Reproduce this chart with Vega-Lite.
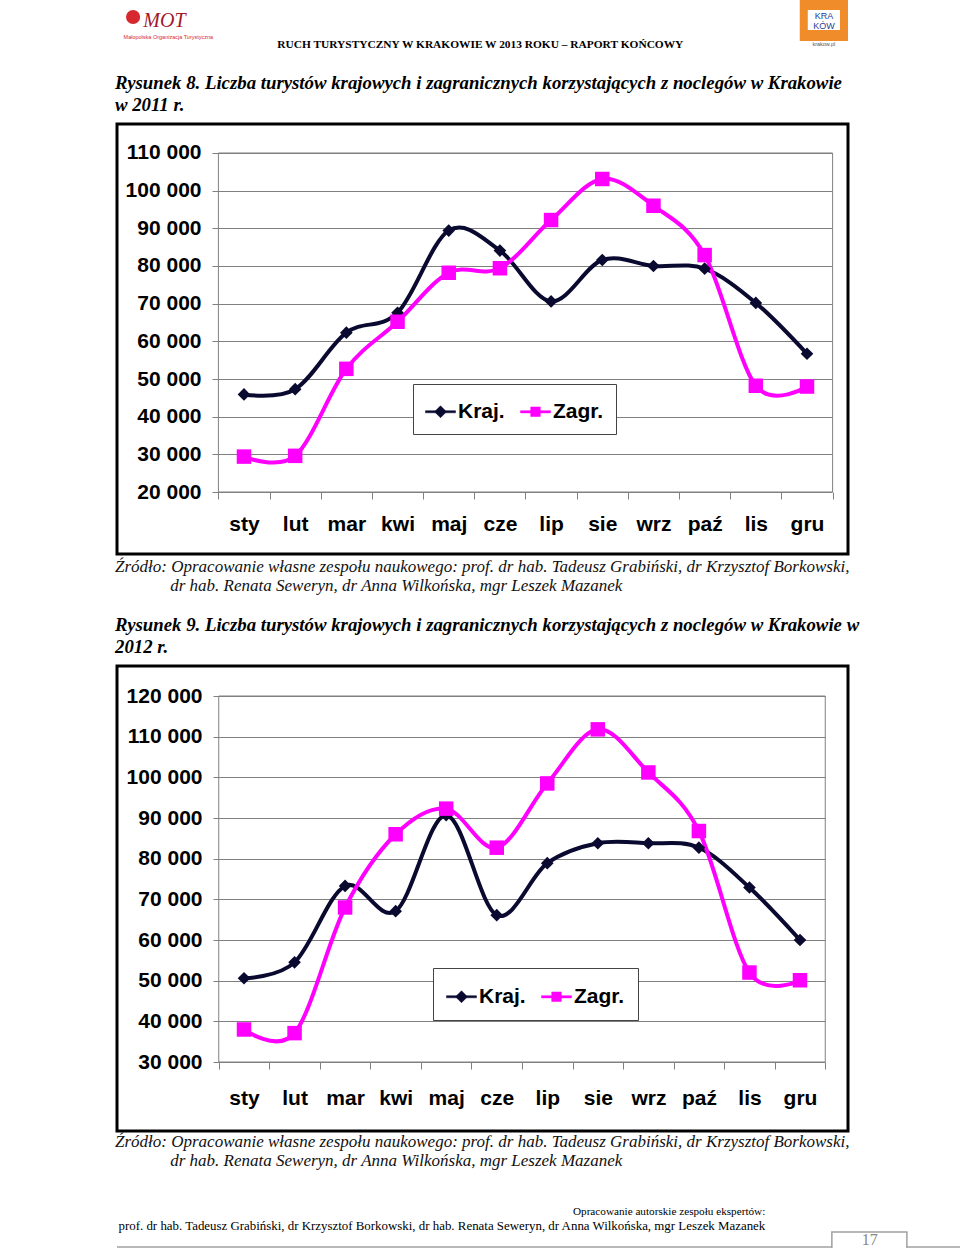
{
  "$schema": "https://vega.github.io/schema/vega-lite/v6.json",
  "padding": {"left": 113, "top": 0, "right": 0, "bottom": 0},
  "background": "white",
  "spacing": 0,
  "config": {"view": {"stroke": null}, "font": "Liberation Sans"},
  "resolve": {"scale": {"color": "independent", "shape": "independent"}, "legend": {"color": "independent", "shape": "independent"}},
  "datasets": {
    "d2011": [
      {"m": "sty", "i": 1, "s": "Kraj.", "v": 45900}, {"m": "lut", "i": 2, "s": "Kraj.", "v": 47300},
      {"m": "mar", "i": 3, "s": "Kraj.", "v": 62300}, {"m": "kwi", "i": 4, "s": "Kraj.", "v": 67600},
      {"m": "maj", "i": 5, "s": "Kraj.", "v": 89400}, {"m": "cze", "i": 6, "s": "Kraj.", "v": 84100},
      {"m": "lip", "i": 7, "s": "Kraj.", "v": 70600}, {"m": "sie", "i": 8, "s": "Kraj.", "v": 81600},
      {"m": "wrz", "i": 9, "s": "Kraj.", "v": 80000}, {"m": "paź", "i": 10, "s": "Kraj.", "v": 79300},
      {"m": "lis", "i": 11, "s": "Kraj.", "v": 70200}, {"m": "gru", "i": 12, "s": "Kraj.", "v": 56700},
      {"m": "sty", "i": 1, "s": "Zagr.", "v": 29400}, {"m": "lut", "i": 2, "s": "Zagr.", "v": 29600},
      {"m": "mar", "i": 3, "s": "Zagr.", "v": 52700}, {"m": "kwi", "i": 4, "s": "Zagr.", "v": 65200},
      {"m": "maj", "i": 5, "s": "Zagr.", "v": 78200}, {"m": "cze", "i": 6, "s": "Zagr.", "v": 79400},
      {"m": "lip", "i": 7, "s": "Zagr.", "v": 92200}, {"m": "sie", "i": 8, "s": "Zagr.", "v": 103100},
      {"m": "wrz", "i": 9, "s": "Zagr.", "v": 96000}, {"m": "paź", "i": 10, "s": "Zagr.", "v": 82900},
      {"m": "lis", "i": 11, "s": "Zagr.", "v": 48200}, {"m": "gru", "i": 12, "s": "Zagr.", "v": 48000}
    ],
    "d2012": [
      {"m": "sty", "i": 1, "s": "Kraj.", "v": 50600}, {"m": "lut", "i": 2, "s": "Kraj.", "v": 54500},
      {"m": "mar", "i": 3, "s": "Kraj.", "v": 73300}, {"m": "kwi", "i": 4, "s": "Kraj.", "v": 67100},
      {"m": "maj", "i": 5, "s": "Kraj.", "v": 90700}, {"m": "cze", "i": 6, "s": "Kraj.", "v": 66100},
      {"m": "lip", "i": 7, "s": "Kraj.", "v": 78900}, {"m": "sie", "i": 8, "s": "Kraj.", "v": 83800},
      {"m": "wrz", "i": 9, "s": "Kraj.", "v": 83800}, {"m": "paź", "i": 10, "s": "Kraj.", "v": 82700},
      {"m": "lis", "i": 11, "s": "Kraj.", "v": 72900}, {"m": "gru", "i": 12, "s": "Kraj.", "v": 60000},
      {"m": "sty", "i": 1, "s": "Zagr.", "v": 38000}, {"m": "lut", "i": 2, "s": "Zagr.", "v": 37100},
      {"m": "mar", "i": 3, "s": "Zagr.", "v": 68000}, {"m": "kwi", "i": 4, "s": "Zagr.", "v": 86000},
      {"m": "maj", "i": 5, "s": "Zagr.", "v": 92300}, {"m": "cze", "i": 6, "s": "Zagr.", "v": 82700},
      {"m": "lip", "i": 7, "s": "Zagr.", "v": 98500}, {"m": "sie", "i": 8, "s": "Zagr.", "v": 111800},
      {"m": "wrz", "i": 9, "s": "Zagr.", "v": 101200}, {"m": "paź", "i": 10, "s": "Zagr.", "v": 86800},
      {"m": "lis", "i": 11, "s": "Zagr.", "v": 52000}, {"m": "gru", "i": 12, "s": "Zagr.", "v": 50100}
    ]
  },
  "vconcat": [
    {
      "width": 731, "height": 72,
      "view": {"stroke": null},
      "data": {"values": [{}]},
      "layer": [
        {"mark": {"type": "text", "font": "Liberation Serif", "fontSize": 11.4, "fontWeight": "bold", "align": "center", "baseline": "alphabetic", "color": "black"},
         "encoding": {"x": {"datum": 0.497, "type": "quantitative", "scale": {"domain": [0, 1], "nice": false, "zero": false}, "axis": null},
                      "y": {"datum": 0.333, "type": "quantitative", "scale": {"domain": [0, 1], "nice": false, "zero": false}, "axis": null},
                      "text": {"value": "RUCH TURYSTYCZNY W KRAKOWIE W 2013 ROKU – RAPORT KOŃCOWY"}}},
        {"mark": {"type": "circle", "color": "#d7282f", "size": 200, "opacity": 1},
         "encoding": {"x": {"datum": 0.022, "type": "quantitative", "scale": {"domain": [0, 1], "nice": false, "zero": false}, "axis": null},
                      "y": {"datum": 0.764, "type": "quantitative", "scale": {"domain": [0, 1], "nice": false, "zero": false}, "axis": null}}},
        {"mark": {"type": "text", "font": "Liberation Serif", "fontSize": 20, "fontStyle": "italic", "align": "left", "baseline": "alphabetic", "color": "#a3182a"},
         "encoding": {"x": {"datum": 0.036, "type": "quantitative", "scale": {"domain": [0, 1], "nice": false, "zero": false}, "axis": null},
                      "y": {"datum": 0.625, "type": "quantitative", "scale": {"domain": [0, 1], "nice": false, "zero": false}, "axis": null},
                      "text": {"value": "MOT"}}},
        {"mark": {"type": "text", "fontSize": 5.5, "align": "left", "baseline": "alphabetic", "color": "#d7282f"},
         "encoding": {"x": {"datum": 0.009, "type": "quantitative", "scale": {"domain": [0, 1], "nice": false, "zero": false}, "axis": null},
                      "y": {"datum": 0.46, "type": "quantitative", "scale": {"domain": [0, 1], "nice": false, "zero": false}, "axis": null},
                      "text": {"value": "Małopolska Organizacja Turystyczna"}}},
        {"mark": {"type": "rect", "color": "#f08c2a", "opacity": 1},
         "encoding": {"x": {"datum": 0.934, "type": "quantitative", "scale": {"domain": [0, 1], "nice": false, "zero": false}, "axis": null},
                      "x2": {"datum": 1.0},
                      "y": {"datum": 0.43, "type": "quantitative", "scale": {"domain": [0, 1], "nice": false, "zero": false}, "axis": null},
                      "y2": {"datum": 1.0}}},
        {"mark": {"type": "rect", "color": "white", "opacity": 1},
         "encoding": {"x": {"datum": 0.945, "type": "quantitative", "scale": {"domain": [0, 1], "nice": false, "zero": false}, "axis": null},
                      "x2": {"datum": 0.989},
                      "y": {"datum": 0.583, "type": "quantitative", "scale": {"domain": [0, 1], "nice": false, "zero": false}, "axis": null},
                      "y2": {"datum": 0.861}}},
        {"mark": {"type": "text", "fontSize": 9, "align": "center", "baseline": "alphabetic", "color": "#2b3d8f"},
         "encoding": {"x": {"datum": 0.967, "type": "quantitative", "scale": {"domain": [0, 1], "nice": false, "zero": false}, "axis": null},
                      "y": {"datum": 0.736, "type": "quantitative", "scale": {"domain": [0, 1], "nice": false, "zero": false}, "axis": null},
                      "text": {"value": "KRA"}}},
        {"mark": {"type": "text", "fontSize": 9, "align": "center", "baseline": "alphabetic", "color": "#2b3d8f"},
         "encoding": {"x": {"datum": 0.967, "type": "quantitative", "scale": {"domain": [0, 1], "nice": false, "zero": false}, "axis": null},
                      "y": {"datum": 0.597, "type": "quantitative", "scale": {"domain": [0, 1], "nice": false, "zero": false}, "axis": null},
                      "text": {"value": "KÓW"}}},
        {"mark": {"type": "text", "fontSize": 5.5, "align": "center", "baseline": "alphabetic", "color": "#555555"},
         "encoding": {"x": {"datum": 0.967, "type": "quantitative", "scale": {"domain": [0, 1], "nice": false, "zero": false}, "axis": null},
                      "y": {"datum": 0.361, "type": "quantitative", "scale": {"domain": [0, 1], "nice": false, "zero": false}, "axis": null},
                      "text": {"value": "krakow.pl"}}}
      ]
    },
    {
      "width": 731, "height": 430,
      "view": {"stroke": "#000000", "strokeWidth": 3},
      "title": {"text": ["Rysunek 8. Liczba turystów krajowych i zagranicznych korzystających z noclegów w Krakowie", "w 2011 r."],
                "anchor": "start", "frame": "group", "font": "Liberation Serif", "fontSize": 18.8, "fontWeight": "bold", "fontStyle": "italic",
                "lineHeight": 22, "color": "black", "offset": 9, "dx": -2},
      "data": {"name": "d2011"},
      "layer": [
        {"data": {"values": [{}]},
         "mark": {"type": "rect", "filled": false, "stroke": "#808080", "strokeWidth": 1},
         "encoding": {
           "x": {"datum": 0.5, "type": "quantitative", "scale": {"domain": [-1.481, 12.801], "nice": false, "zero": false},
                 "axis": {"values": [0.5, 1.5, 2.5, 3.5, 4.5, 5.5, 6.5, 7.5, 8.5, 9.5, 10.5, 11.5, 12.5],
                          "labelExpr": "['sty','lut','mar','kwi','maj','cze','lip','sie','wrz','paź','lis','gru'][datum.value - 0.5] || ''",
                          "labelOffset": 25.6, "ticks": true, "tickSize": 7, "tickColor": "#808080", "tickWidth": 1,
                          "domain": false, "grid": false, "offset": -62, "labelPadding": 14,
                          "labelFont": "Liberation Sans", "labelFontSize": 21, "labelFontWeight": "bold", "labelColor": "black",
                          "labelFlush": false, "labelOverlap": false, "labelAngle": 0, "title": null}},
           "x2": {"datum": 12.5},
           "y": {"datum": 20000, "type": "quantitative", "scale": {"domain": [3541, 117698], "nice": false, "zero": false},
                 "axis": {"values": [20000, 30000, 40000, 50000, 60000, 70000, 80000, 90000, 100000, 110000],
                          "labelExpr": "replace(format(datum.value, ','), ',', ' ')",
                          "offset": -95, "tickSize": -620, "tickColor": "#808080", "tickWidth": 1, "labelPadding": 631,
                          "domain": false, "grid": false, "title": null,
                          "labelFont": "Liberation Sans", "labelFontSize": 21, "labelFontWeight": "bold", "labelColor": "black",
                          "labelBaseline": "middle", "labelFlush": false, "labelOverlap": false}},
           "y2": {"datum": 110000}
         }},
        {"mark": {"type": "line", "interpolate": "cardinal", "strokeWidth": 4},
         "encoding": {
           "x": {"field": "i", "type": "quantitative", "scale": {"domain": [-1.481, 12.801], "nice": false, "zero": false}},
           "y": {"field": "v", "type": "quantitative", "scale": {"domain": [3541, 117698], "nice": false, "zero": false}},
           "color": {"field": "s", "type": "nominal", "scale": {"domain": ["Kraj.", "Zagr."], "range": ["#0a0a30", "#ff00ff"]}}
         }},
        {"transform": [{"filter": "datum.s === 'Kraj.'"}],
         "mark": {"type": "point", "filled": true, "opacity": 1, "shape": "diamond", "size": 160},
         "encoding": {
           "x": {"field": "i", "type": "quantitative", "scale": {"domain": [-1.481, 12.801], "nice": false, "zero": false}},
           "y": {"field": "v", "type": "quantitative", "scale": {"domain": [3541, 117698], "nice": false, "zero": false}},
           "color": {"field": "s", "type": "nominal", "scale": {"domain": ["Kraj.", "Zagr."], "range": ["#0a0a30", "#ff00ff"]}}
         }},
        {"transform": [{"filter": "datum.s === 'Zagr.'"}],
         "mark": {"type": "point", "filled": true, "opacity": 1, "shape": "square", "size": 210},
         "encoding": {
           "x": {"field": "i", "type": "quantitative", "scale": {"domain": [-1.481, 12.801], "nice": false, "zero": false}},
           "y": {"field": "v", "type": "quantitative", "scale": {"domain": [3541, 117698], "nice": false, "zero": false}},
           "color": {"field": "s", "type": "nominal", "scale": {"domain": ["Kraj.", "Zagr."], "range": ["#0a0a30", "#ff00ff"]}}
         }},
        {"mark": {"type": "point", "filled": true, "opacity": 0, "size": 1},
         "encoding": {
           "x": {"field": "i", "type": "quantitative", "scale": {"domain": [-1.481, 12.801], "nice": false, "zero": false}},
           "y": {"field": "v", "type": "quantitative", "scale": {"domain": [3541, 117698], "nice": false, "zero": false}},
           "color": {"field": "s", "type": "nominal", "scale": {"domain": ["Kraj.", "Zagr."], "range": ["#0a0a30", "#ff00ff"]},
                     "legend": {"orient": "none", "legendX": 296, "legendY": 260, "direction": "horizontal", "title": null,
                                "fillColor": "white", "strokeColor": "#444444", "padding": 12, "symbolSize": 900, "symbolOpacity": 1,
                                "symbolStrokeWidth": 0.5,
                                "labelFont": "Liberation Sans", "labelFontSize": 21, "labelFontWeight": "bold", "labelColor": "black",
                                "labelOffset": 2, "columnPadding": 14}},
           "shape": {"field": "s", "type": "nominal",
                     "scale": {"domain": ["Kraj.", "Zagr."], "range": ["M-1,-0.07H1V0.07H-1Z M0,-0.4L0.4,0L0,0.4L-0.4,0Z", "M-1,-0.075H1V0.075H-1Z M-0.32,-0.32H0.32V0.32H-0.32Z"]},
                     "legend": {"orient": "none", "legendX": 296, "legendY": 260, "direction": "horizontal", "title": null,
                                "fillColor": "white", "strokeColor": "#444444", "padding": 12, "symbolSize": 900, "symbolOpacity": 1,
                                "symbolStrokeWidth": 0.5,
                                "labelFont": "Liberation Sans", "labelFontSize": 21, "labelFontWeight": "bold", "labelColor": "black",
                                "labelOffset": 2, "columnPadding": 14}}
         }}
      ]
    },
    {
      "width": 731, "height": 465,
      "view": {"stroke": "#000000", "strokeWidth": 3},
      "title": {"text": ["Źródło: Opracowanie własne zespołu naukowego: prof. dr hab. Tadeusz Grabiński, dr Krzysztof Borkowski,", "\u200b\u00a0\u00a0\u00a0\u00a0\u00a0\u00a0\u00a0\u00a0\u00a0\u00a0\u00a0\u00a0\u00a0dr hab. Renata Seweryn, dr Anna Wilkońska, mgr Leszek Mazanek"],
                "anchor": "start", "frame": "group", "font": "Liberation Serif", "fontSize": 17, "fontWeight": "normal", "fontStyle": "italic",
                "lineHeight": 19, "color": "#111111",
                "subtitle": ["Rysunek 9. Liczba turystów krajowych i zagranicznych korzystających z noclegów w Krakowie w", "2012 r."],
                "subtitleFont": "Liberation Serif", "subtitleFontSize": 18.8, "subtitleFontWeight": "bold", "subtitleFontStyle": "italic",
                "subtitleColor": "black", "subtitleLineHeight": 22, "subtitlePadding": 21, "offset": 8, "dx": -2},
      "data": {"name": "d2012"},
      "layer": [
        {"data": {"values": [{}]},
         "mark": {"type": "rect", "filled": false, "stroke": "#808080", "strokeWidth": 1},
         "encoding": {
           "x": {"datum": 0.5, "type": "quantitative", "scale": {"domain": [-1.513, 12.95], "nice": false, "zero": false},
                 "axis": {"values": [0.5, 1.5, 2.5, 3.5, 4.5, 5.5, 6.5, 7.5, 8.5, 9.5, 10.5, 11.5, 12.5],
                          "labelExpr": "['sty','lut','mar','kwi','maj','cze','lip','sie','wrz','paź','lis','gru'][datum.value - 0.5] || ''",
                          "labelOffset": 25.3, "ticks": true, "tickSize": 7, "tickColor": "#808080", "tickWidth": 1,
                          "domain": false, "grid": false, "offset": -69, "labelPadding": 18,
                          "labelFont": "Liberation Sans", "labelFontSize": 21, "labelFontWeight": "bold", "labelColor": "black",
                          "labelFlush": false, "labelOverlap": false, "labelAngle": 0, "title": null}},
           "x2": {"datum": 12.5},
           "y": {"datum": 30000, "type": "quantitative", "scale": {"domain": [13034, 127377], "nice": false, "zero": false},
                 "axis": {"values": [30000, 40000, 50000, 60000, 70000, 80000, 90000, 100000, 110000, 120000],
                          "labelExpr": "replace(format(datum.value, ','), ',', ' ')",
                          "offset": -96, "tickSize": -612, "tickColor": "#808080", "tickWidth": 1, "labelPadding": 623,
                          "domain": false, "grid": false, "title": null,
                          "labelFont": "Liberation Sans", "labelFontSize": 21, "labelFontWeight": "bold", "labelColor": "black",
                          "labelBaseline": "middle", "labelFlush": false, "labelOverlap": false}},
           "y2": {"datum": 120000}
         }},
        {"mark": {"type": "line", "interpolate": "cardinal", "strokeWidth": 4},
         "encoding": {
           "x": {"field": "i", "type": "quantitative", "scale": {"domain": [-1.513, 12.95], "nice": false, "zero": false}},
           "y": {"field": "v", "type": "quantitative", "scale": {"domain": [13034, 127377], "nice": false, "zero": false}},
           "color": {"field": "s", "type": "nominal", "scale": {"domain": ["Kraj.", "Zagr."], "range": ["#0a0a30", "#ff00ff"]}}
         }},
        {"transform": [{"filter": "datum.s === 'Kraj.'"}],
         "mark": {"type": "point", "filled": true, "opacity": 1, "shape": "diamond", "size": 160},
         "encoding": {
           "x": {"field": "i", "type": "quantitative", "scale": {"domain": [-1.513, 12.95], "nice": false, "zero": false}},
           "y": {"field": "v", "type": "quantitative", "scale": {"domain": [13034, 127377], "nice": false, "zero": false}},
           "color": {"field": "s", "type": "nominal", "scale": {"domain": ["Kraj.", "Zagr."], "range": ["#0a0a30", "#ff00ff"]}}
         }},
        {"transform": [{"filter": "datum.s === 'Zagr.'"}],
         "mark": {"type": "point", "filled": true, "opacity": 1, "shape": "square", "size": 210},
         "encoding": {
           "x": {"field": "i", "type": "quantitative", "scale": {"domain": [-1.513, 12.95], "nice": false, "zero": false}},
           "y": {"field": "v", "type": "quantitative", "scale": {"domain": [13034, 127377], "nice": false, "zero": false}},
           "color": {"field": "s", "type": "nominal", "scale": {"domain": ["Kraj.", "Zagr."], "range": ["#0a0a30", "#ff00ff"]}}
         }},
        {"mark": {"type": "point", "filled": true, "opacity": 0, "size": 1},
         "encoding": {
           "x": {"field": "i", "type": "quantitative", "scale": {"domain": [-1.513, 12.95], "nice": false, "zero": false}},
           "y": {"field": "v", "type": "quantitative", "scale": {"domain": [13034, 127377], "nice": false, "zero": false}},
           "color": {"field": "s", "type": "nominal", "scale": {"domain": ["Kraj.", "Zagr."], "range": ["#0a0a30", "#ff00ff"]},
                     "legend": {"orient": "none", "legendX": 316, "legendY": 302, "direction": "horizontal", "title": null,
                                "fillColor": "white", "strokeColor": "#444444", "padding": 13, "symbolSize": 900, "symbolOpacity": 1,
                                "symbolStrokeWidth": 0.5,
                                "labelFont": "Liberation Sans", "labelFontSize": 21, "labelFontWeight": "bold", "labelColor": "black",
                                "labelOffset": 2, "columnPadding": 14}},
           "shape": {"field": "s", "type": "nominal",
                     "scale": {"domain": ["Kraj.", "Zagr."], "range": ["M-1,-0.07H1V0.07H-1Z M0,-0.4L0.4,0L0,0.4L-0.4,0Z", "M-1,-0.075H1V0.075H-1Z M-0.32,-0.32H0.32V0.32H-0.32Z"]},
                     "legend": {"orient": "none", "legendX": 316, "legendY": 302, "direction": "horizontal", "title": null,
                                "fillColor": "white", "strokeColor": "#444444", "padding": 13, "symbolSize": 900, "symbolOpacity": 1,
                                "symbolStrokeWidth": 0.5,
                                "labelFont": "Liberation Sans", "labelFontSize": 21, "labelFontWeight": "bold", "labelColor": "black",
                                "labelOffset": 2, "columnPadding": 14}}
         }}
      ]
    },
    {
      "width": 843, "height": 74,
      "view": {"stroke": null},
      "title": {"text": ["Źródło: Opracowanie własne zespołu naukowego: prof. dr hab. Tadeusz Grabiński, dr Krzysztof Borkowski,", "\u200b\u00a0\u00a0\u00a0\u00a0\u00a0\u00a0\u00a0\u00a0\u00a0\u00a0\u00a0\u00a0\u00a0dr hab. Renata Seweryn, dr Anna Wilkońska, mgr Leszek Mazanek"],
                "anchor": "start", "frame": "group", "font": "Liberation Serif", "fontSize": 17, "fontWeight": "normal", "fontStyle": "italic",
                "lineHeight": 19, "color": "#111111", "offset": 4, "dx": -2},
      "data": {"values": [{}]},
      "layer": [
        {"mark": {"type": "text", "font": "Liberation Serif", "fontSize": 11.2, "align": "right", "baseline": "alphabetic", "color": "black"},
         "encoding": {"x": {"datum": 0.769, "type": "quantitative", "scale": {"domain": [0, 1], "nice": false, "zero": false}, "axis": null},
                      "y": {"datum": 0.446, "type": "quantitative", "scale": {"domain": [0, 1], "nice": false, "zero": false}, "axis": null},
                      "text": {"value": "Opracowanie autorskie zespołu ekspertów:"}}},
        {"mark": {"type": "text", "font": "Liberation Serif", "fontSize": 12.9, "align": "right", "baseline": "alphabetic", "color": "black"},
         "encoding": {"x": {"datum": 0.769, "type": "quantitative", "scale": {"domain": [0, 1], "nice": false, "zero": false}, "axis": null},
                      "y": {"datum": 0.243, "type": "quantitative", "scale": {"domain": [0, 1], "nice": false, "zero": false}, "axis": null},
                      "text": {"value": "prof. dr hab. Tadeusz Grabiński, dr Krzysztof Borkowski, dr hab. Renata Seweryn, dr Anna Wilkońska, mgr Leszek Mazanek"}}},
        {"mark": {"type": "rule", "color": "#a0a0a0", "strokeWidth": 1.5},
         "encoding": {"x": {"datum": 0, "type": "quantitative", "scale": {"domain": [0, 1], "nice": false, "zero": false}, "axis": null},
                      "x2": {"datum": 0.848},
                      "y": {"datum": 0.0135, "type": "quantitative", "scale": {"domain": [0, 1], "nice": false, "zero": false}, "axis": null}}},
        {"mark": {"type": "rule", "color": "#a0a0a0", "strokeWidth": 1.5},
         "encoding": {"x": {"datum": 0.937, "type": "quantitative", "scale": {"domain": [0, 1], "nice": false, "zero": false}, "axis": null},
                      "x2": {"datum": 1},
                      "y": {"datum": 0.0135, "type": "quantitative", "scale": {"domain": [0, 1], "nice": false, "zero": false}, "axis": null}}},
        {"mark": {"type": "rect", "filled": false, "stroke": "#a0a0a0", "strokeWidth": 1.5},
         "encoding": {"x": {"datum": 0.848, "type": "quantitative", "scale": {"domain": [0, 1], "nice": false, "zero": false}, "axis": null},
                      "x2": {"datum": 0.937},
                      "y": {"datum": -0.1, "type": "quantitative", "scale": {"domain": [0, 1], "nice": false, "zero": false}, "axis": null},
                      "y2": {"datum": 0.216}}},
        {"mark": {"type": "text", "font": "Liberation Serif", "fontSize": 16, "align": "center", "baseline": "alphabetic", "color": "#888888"},
         "encoding": {"x": {"datum": 0.893, "type": "quantitative", "scale": {"domain": [0, 1], "nice": false, "zero": false}, "axis": null},
                      "y": {"datum": 0.035, "type": "quantitative", "scale": {"domain": [0, 1], "nice": false, "zero": false}, "axis": null},
                      "text": {"value": "17"}}}
      ]
    }
  ]
}
